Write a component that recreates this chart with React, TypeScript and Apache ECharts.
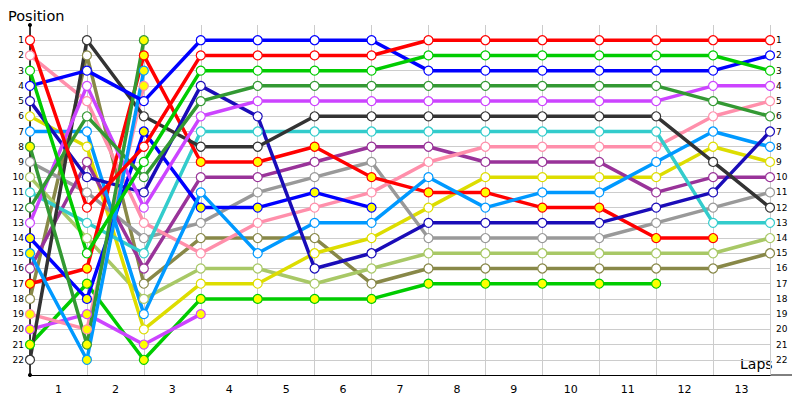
import React, { useEffect, useRef } from "react";
import * as echarts from "echarts";

// Lap numbers (0 = grid) and lap labels
const laps = [0, 1, 2, 3, 4, 5, 6, 7, 8, 9, 10, 11, 12, 13];
const lapLabels = ["1", "2", "3", "4", "5", "6", "7", "8", "9", "10", "11", "12", "13"];
const positionTicks = [1, 22];

// Positions per lap (null = not running)
const redA = [1, 12, 8, 2, 2, 2, 2, 1, 1, 1, 1, 1, 1, 1];
const pinkA = [2, 5, 13, 15, 13, 12, 11, 9, 8, 8, 8, 8, 6, 5];
const greenA = [3, 15, 9, 3, 3, 3, 3, 2, 2, 2, 2, 2, 2, 3];
const blueA = [4, 3, 5, 1, 1, 1, 1, 3, 3, 3, 3, 3, 3, 2];
const navyA = [5, 10, 11, 4, 6, 16, 15, 13, 13, 13, 13, 12, 11, 7];
const yellowA = [6, 8, 20, 17, 17, 15, 14, 12, 10, 10, 10, 10, 8, 9];
const skyA = [7, 7, 19, 11, 15, 13, 13, 10, 12, 11, 11, 9, 7, 8];
const forestB = [8, 21, 1, null, null, null, null, null, null, null, null, null, null, null];
const grayA = [9, 11, 14, 13, 11, 10, 9, 14, 14, 14, 14, 13, 12, 11];
const limeA = [10, 14, 18, 16, 16, 17, 16, 15, 15, 15, 15, 15, 15, 14];
const cyanA = [11, 13, 15, 7, 7, 7, 7, 7, 7, 7, 7, 7, 13, 13];
const forestA = [12, 6, 10, 5, 4, 4, 4, 4, 4, 4, 4, 4, 5, 6];
const violetA = [13, 4, 12, 6, 5, 5, 5, 5, 5, 5, 5, 5, 4, 4];
const blueB = [14, 18, 7, 12, 12, 11, 12, null, null, null, null, null, null, null];
const skyB = [15, 22, 3, null, null, null, null, null, null, null, null, null, null, null];
const purpleA = [16, 9, 16, 10, 10, 9, 8, 8, 9, 9, 9, 11, 10, 10];
const redB = [17, 16, 2, 9, 9, 8, 10, 11, 11, 12, 12, 14, 14, null];
const oliveA = [18, 2, 17, 14, 14, 14, 17, 16, 16, 16, 16, 16, 16, 15];
const pinkB = [19, 20, 4, null, null, null, null, null, null, null, null, null, null, null];
const violetB = [20, 19, 21, 19, null, null, null, null, null, null, null, null, null, null];
const greenB = [21, 17, 22, 18, 18, 18, 18, 17, 17, 17, 17, 17, null, null];
const blackA = [22, 1, 6, 8, 8, 6, 6, 6, 6, 6, 6, 6, 9, 12];

const WHITE = "#ffffff";
const YEL = "#ffff00";

const drivers: { data: (number | null)[]; color: string; fill: string }[] = [
  { data: greenB, color: "#00cc00", fill: YEL },
  { data: oliveA, color: "#888848", fill: WHITE },
  { data: limeA, color: "#a8c866", fill: WHITE },
  { data: yellowA, color: "#dddd00", fill: WHITE },
  { data: violetB, color: "#cc44ff", fill: YEL },
  { data: grayA, color: "#999999", fill: WHITE },
  { data: purpleA, color: "#993399", fill: WHITE },
  { data: pinkA, color: "#ff8fab", fill: WHITE },
  { data: pinkB, color: "#ff8fab", fill: YEL },
  { data: cyanA, color: "#33cccc", fill: WHITE },
  { data: redB, color: "#ff0000", fill: YEL },
  { data: blueB, color: "#0000ff", fill: YEL },
  { data: skyA, color: "#0099ff", fill: WHITE },
  { data: navyA, color: "#1a0cb8", fill: WHITE },
  { data: blackA, color: "#333333", fill: WHITE },
  { data: violetA, color: "#cc44ff", fill: WHITE },
  { data: forestA, color: "#339933", fill: WHITE },
  { data: forestB, color: "#339933", fill: YEL },
  { data: skyB, color: "#0099ff", fill: YEL },
  { data: blueA, color: "#0000ff", fill: WHITE },
  { data: greenA, color: "#00cc00", fill: WHITE },
  { data: redA, color: "#ff0000", fill: WHITE },
];

const FONT = "DejaVu Sans";

export default function App() {
  const ref = useRef<HTMLDivElement>(null);
  useEffect(() => {
    if (!ref.current) return;
    const chart = echarts.init(ref.current, undefined, { renderer: "svg" });
    const yLabel = (v: number) =>
      v >= positionTicks[0] && v <= positionTicks[1] ? String(v) : "";
    chart.setOption({
      animation: false,
      backgroundColor: "#ffffff",
      title: {
        text: "Position",
        left: 3,
        top: 3,
        textStyle: { fontFamily: FONT, fontSize: 14.5, fontWeight: "normal", color: "#000" },
      },
      grid: { left: 30, right: 30, top: 25, bottom: 25, containLabel: false },
      xAxis: [
        {
          type: "value",
          min: 0,
          max: 13,
          interval: 1,
          position: "bottom",
          axisLine: { show: true, onZero: false, lineStyle: { color: "#000", width: 1 } },
          axisTick: { show: false },
          axisLabel: { show: false },
          splitLine: { show: true, lineStyle: { color: "#cccccc", width: 1 } },
        },
        {
          type: "category",
          data: lapLabels,
          boundaryGap: true,
          position: "bottom",
          axisLine: { show: false },
          axisTick: { show: false },
          splitLine: { show: false },
          axisLabel: { fontFamily: FONT, fontSize: 11, color: "#000", margin: 9 },
        },
      ],
      yAxis: [
        {
          type: "value",
          inverse: true,
          min: 0,
          max: 23,
          interval: 1,
          position: "left",
          axisLine: {
            show: true,
            onZero: false,
            symbol: ["circle", "circle"],
            symbolSize: [4, 4],
            lineStyle: { color: "#000", width: 1.5 },
          },
          axisTick: { show: true, length: 2, lineStyle: { color: "#000" } },
          axisLabel: { formatter: yLabel, fontFamily: FONT, fontSize: 9, color: "#000", margin: 6 },
          splitLine: {
            show: true,
            showMinLine: false,
            showMaxLine: false,
            lineStyle: { color: "#cccccc", width: 1 },
          },
        },
        {
          type: "value",
          inverse: true,
          min: 0,
          max: 23,
          interval: 1,
          position: "right",
          axisLine: { show: false },
          axisTick: { show: false },
          splitLine: { show: false },
          axisLabel: { formatter: yLabel, fontFamily: FONT, fontSize: 9, color: "#000", margin: 6 },
        },
      ],
      graphic: [
        {
          type: "line",
          shape: { x1: 770, y1: 375, x2: 792, y2: 375 },
          style: { stroke: "#000", lineWidth: 1 },
        },
        {
          type: "text",
          left: 740,
          top: 357,
          style: { text: "Laps", font: `14px "${FONT}"`, fill: "#000" },
        },
      ],
      series: drivers.map((d) => ({
        type: "line",
        xAxisIndex: 0,
        yAxisIndex: 0,
        data: laps
          .map((lap, i) => (d.data[i] == null ? null : [lap, d.data[i]]))
          .filter((p) => p !== null),
        symbol: "circle",
        symbolSize: 9,
        showAllSymbol: true,
        lineStyle: { color: d.color, width: 3.5 },
        itemStyle: { color: d.fill, borderColor: d.color, borderWidth: 1.2 },
        emphasis: { disabled: true },
        silent: true,
      })),
    });
    return () => chart.dispose();
  }, []);
  return (
    <div
      ref={ref}
      style={{ position: "fixed", left: 0, top: 0, width: 800, height: 400, background: "#fff" }}
    />
  );
}
